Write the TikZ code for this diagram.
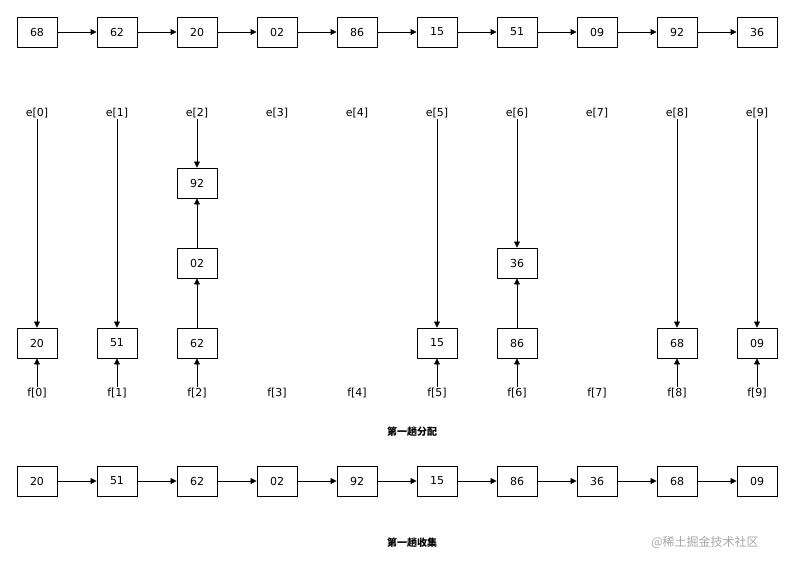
\documentclass[tikz,border=0pt]{standalone}
\usepackage{fontspec}
\setmainfont{DejaVu Sans}
\newfontfamily\cjk{Noto Sans CJK SC}
\usetikzlibrary{arrows.meta}
\begin{document}
\begin{tikzpicture}[x=1pt,y=-1pt,
 bx/.style={draw,line width=0.9pt,minimum width=40pt,minimum height=30pt,inner sep=0pt,font=\fontsize{11}{13}\selectfont},
 lb/.style={font=\fontsize{11}{13}\selectfont,inner sep=1pt},
 ar/.style={-{Triangle[length=6pt,width=6pt]},line width=0.8pt}]
\useasboundingbox (0,0) rectangle (797,568);
\foreach \v [count=\i from 0] in {68,62,20,02,86,15,51,09,92,36}{
  \node[bx] (t\i) at (37+80*\i,32) {\v};}
\foreach \i [evaluate=\i as \j using int(\i+1)] in {0,...,8}{\draw[ar] (t\i) -- (t\j);}
\foreach \v [count=\i from 0] in {20,51,62,02,92,15,86,36,68,09}{
  \node[bx] (b\i) at (37+80*\i,481) {\v};}
\foreach \i [evaluate=\i as \j using int(\i+1)] in {0,...,8}{\draw[ar] (b\i) -- (b\j);}
\foreach \i in {0,...,9}{
  \node[lb] (e\i) at (37+80*\i,113) {e[\i]};
  \node[lb] (f\i) at (37+80*\i,393) {f[\i]};}
\node[bx] (m0) at (37,343) {20};
\node[bx] (m1) at (117,343) {51};
\node[bx] (m2) at (197,343) {62};
\node[bx] (m5) at (437,343) {15};
\node[bx] (m6) at (517,343) {86};
\node[bx] (m8) at (677,343) {68};
\node[bx] (m9) at (757,343) {09};
\node[bx] (n92) at (197,183) {92};
\node[bx] (n02) at (197,263) {02};
\node[bx] (n36) at (517,263) {36};
\foreach \i in {0,1,5,8,9}{\draw[ar] (e\i) -- (m\i); \draw[ar] (f\i) -- (m\i);}
\draw[ar] (e2) -- (n92); \draw[ar] (n02) -- (n92); \draw[ar] (m2) -- (n02); \draw[ar] (f2) -- (m2);
\draw[ar] (e6) -- (n36); \draw[ar] (m6) -- (n36); \draw[ar] (f6) -- (m6);
\node[font=\cjk\bfseries\fontsize{10}{12}\selectfont] (c1) at (412,432) {第一趟分配};
\node[font=\cjk\bfseries\fontsize{10}{12}\selectfont] (c2) at (412,543) {第一趟收集};
\node[font=\cjk\fontsize{12}{14}\selectfont,text=gray!70] (w) at (705,542) {@稀土掘金技术社区};
\end{tikzpicture}
\end{document}
